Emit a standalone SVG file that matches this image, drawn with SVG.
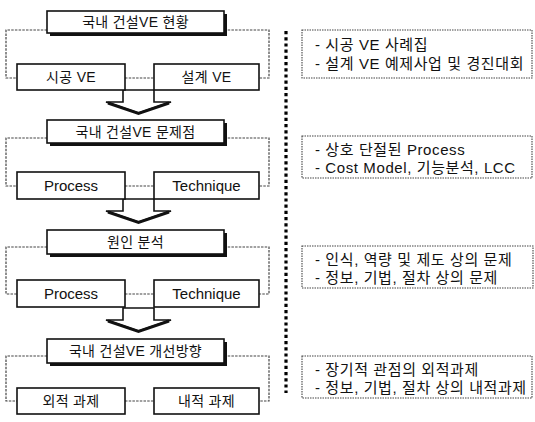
<svg xmlns="http://www.w3.org/2000/svg" width="535" height="422" viewBox="0 0 535 422">
<style>
text{font-family:"Liberation Sans","Noto Sans CJK KR",sans-serif;fill:#111;}
.t{font-size:14px;text-anchor:middle;letter-spacing:0.3px;}
.e{font-size:15px;text-anchor:middle;}
.r{font-size:15px;letter-spacing:0.6px;}
.box{fill:#fff;stroke:#111;stroke-width:1.6;}
.shadow{fill:#111;}
.dot{fill:none;stroke:#444;stroke-width:1.2;stroke-dasharray:2.5 1.2;}
.note{fill:#fff;stroke:#444;stroke-width:1.1;stroke-dasharray:1.5 1;}
.arrow{fill:#fff;stroke:#111;stroke-width:1.6;stroke-linejoin:miter;}
.ahead{fill:none;stroke:#111;stroke-width:3;}
.sep{fill:none;stroke:#000;stroke-width:3.2;stroke-dasharray:3.2 3;}
</style>
<defs>
<g id="arrowShape">
<polygon class="arrow" points="123,0 123,12 106,12 138.5,23 171,12 154,12 154,0"/>
<polyline class="ahead" points="108,13 138.5,23.5 169,13"/>
</g>
</defs>

<g id="connectors">
<polyline class="dot" points="47,30 6,30 6,78 17,78"/>
<polyline class="dot" points="224,30 269,30 269,78 259,78"/>
<line class="dot" x1="125" y1="78" x2="154" y2="78"/>
<polyline class="dot" points="47,138 6,138 6,186 17,186"/>
<polyline class="dot" points="224,138 269,138 269,186 259,186"/>
<line class="dot" x1="125" y1="186" x2="154" y2="186"/>
<polyline class="dot" points="47,247 6,247 6,294 17,294"/>
<polyline class="dot" points="224,247 269,247 269,294 259,294"/>
<line class="dot" x1="125" y1="294" x2="154" y2="294"/>
<polyline class="dot" points="47,356 6,356 6,401 17,401"/>
<polyline class="dot" points="224,356 269,356 269,401 259,401"/>
<line class="dot" x1="125" y1="401" x2="154" y2="401"/>
<use href="#arrowShape" transform="translate(0,90)"/>
<use href="#arrowShape" transform="translate(0,199)"/>
<use href="#arrowShape" transform="translate(0,308)"/>
<line class="sep" x1="286" y1="31" x2="286" y2="393"/>
</g>

<g id="n1-top">
<rect class="shadow" x="50" y="14" width="177" height="22"/>
<rect class="box" x="47" y="11" width="177" height="22"/>
<text class="t" x="135.5" y="27">국내 건설VE 현황</text>
</g>
<g id="n1-left">
<rect class="box" x="17" y="64" width="108" height="26"/>
<text class="t" x="71" y="82">시공 VE</text>
</g>
<g id="n1-right">
<rect class="box" x="154" y="64" width="105" height="26"/>
<text class="t" x="206.5" y="82">설계 VE</text>
</g>

<g id="n2-top">
<rect class="shadow" x="50" y="123" width="177" height="23"/>
<rect class="box" x="47" y="120" width="177" height="23"/>
<text class="t" x="135.5" y="136.5">국내 건설VE 문제점</text>
</g>
<g id="n2-left">
<rect class="box" x="17" y="172" width="108" height="27"/>
<text class="e" x="71" y="191">Process</text>
</g>
<g id="n2-right">
<rect class="box" x="154" y="172" width="105" height="27"/>
<text class="e" x="206.5" y="191">Technique</text>
</g>

<g id="n3-top">
<rect class="shadow" x="50" y="233" width="177" height="24"/>
<rect class="box" x="47" y="230" width="177" height="24"/>
<text class="t" x="135.5" y="247">원인 분석</text>
</g>
<g id="n3-left">
<rect class="box" x="17" y="280" width="108" height="27"/>
<text class="e" x="71" y="299">Process</text>
</g>
<g id="n3-right">
<rect class="box" x="154" y="280" width="105" height="27"/>
<text class="e" x="206.5" y="299">Technique</text>
</g>

<g id="n4-top">
<rect class="shadow" x="50" y="342" width="177" height="24"/>
<rect class="box" x="47" y="339" width="177" height="24"/>
<text class="t" x="135.5" y="356">국내 건설VE 개선방향</text>
</g>
<g id="n4-left">
<rect class="box" x="17" y="388" width="108" height="26"/>
<text class="t" x="71" y="406">외적 과제</text>
</g>
<g id="n4-right">
<rect class="box" x="154" y="388" width="105" height="26"/>
<text class="t" x="206.5" y="406">내적 과제</text>
</g>

<g id="note1">
<rect class="note" x="302" y="30" width="230" height="48"/>
<text class="r" x="315" y="50">- 시공 VE 사례집</text>
<text class="r" x="315" y="69">- 설계 VE 예제사업 및 경진대회</text>
</g>
<g id="note2">
<rect class="note" x="302" y="136" width="230" height="42"/>
<text class="r" x="315" y="155">- 상호 단절된 Process</text>
<text class="r" x="315" y="173">- Cost Model, 기능분석, LCC</text>
</g>
<g id="note3">
<rect class="note" x="302" y="246" width="231" height="42"/>
<text class="r" x="315" y="265">- 인식, 역량 및 제도 상의 문제</text>
<text class="r" x="315" y="283">- 정보, 기법, 절차 상의 문제</text>
</g>
<g id="note4">
<rect class="note" x="302" y="356" width="230" height="42"/>
<text class="r" x="315" y="375">- 장기적 관점의 외적과제</text>
<text class="r" x="315" y="393">- 정보, 기법, 절차 상의 내적과제</text>
</g>
</svg>
